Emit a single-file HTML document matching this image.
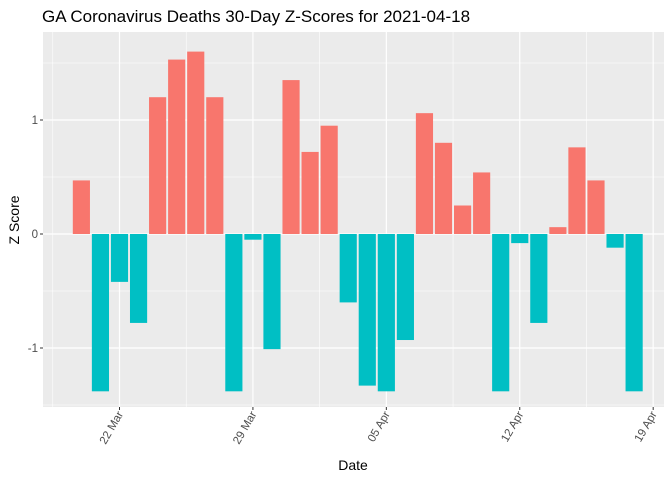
<!DOCTYPE html>
<html><head><meta charset="utf-8"><style>
body{margin:0;background:#fff;font-family:"Liberation Sans",Arial,sans-serif}
</style></head><body>
<svg width="672" height="480" xmlns="http://www.w3.org/2000/svg">
<text x="42" y="22" font-size="17" fill="#000">GA Coronavirus Deaths 30-Day Z-Scores for 2021-04-18</text>
<rect x="43" y="32" width="621" height="375" fill="#ebebeb"/>
<g id="grid"></g><g id="bars"></g><g id="axes"></g>
<text transform="translate(19,220) rotate(-90)" text-anchor="middle" font-size="14">Z Score</text>
<text x="353" y="470" text-anchor="middle" font-size="14">Date</text>
</svg>
<script>
const days=[-2,-1,0,1,2,3,4,5,6,7,8,9,10,11,12,13,14,15,16,17,18,19,20,21,22,23,24,25,26,27];
const zscores=[0.47,-1.38,-0.42,-0.78,1.2,1.53,1.6,1.2,-1.38,-0.05,-1.01,1.35,0.72,0.95,-0.6,-1.33,-1.38,-0.93,1.06,0.8,0.25,0.54,-1.38,-0.08,-0.78,0.06,0.76,0.47,-0.12,-1.38];
const xTickDays=[0,7,14,21,28];
const xTickLabels=["22 Mar","29 Mar","05 Apr","12 Apr","19 Apr"];
const yTicks=[-1,0,1];
const NS="http://www.w3.org/2000/svg";
const L=43,R=664,T=32,B=407;
const x=d=>119.5+d*19.06;
const y=v=>234-v*114;
function mk(tag,attrs,parent){const e=document.createElementNS(NS,tag);for(const k in attrs)e.setAttribute(k,attrs[k]);document.getElementById(parent).appendChild(e);return e;}
// minor grid
for(let i=0;i<xTickDays.length;i++){
  const d=xTickDays[i]-3.5;
  if(x(d)>L&&x(d)<R){const g=mk('line',{x1:x(d),x2:x(d),y1:T,y2:B,stroke:'#fff','stroke-width':0.6},'grid');
  
  }
}
for(const v of [-1.5,-0.5,0.5,1.5]){const g=mk('line',{x1:L,x2:R,y1:y(v),y2:y(v),stroke:'#fff','stroke-width':0.6},'grid');
  
  }
for(let i=0;i<xTickDays.length;i++){const g=mk('line',{x1:x(xTickDays[i]),x2:x(xTickDays[i]),y1:T,y2:B,stroke:'#fff','stroke-width':1.2},'grid');
  
  }
for(const v of yTicks){const g=mk('line',{x1:L,x2:R,y1:y(v),y2:y(v),stroke:'#fff','stroke-width':1.2},'grid');
  
  }
// bars
for(let i=0;i<days.length;i++){
  const v=zscores[i],w=19.06*0.9;
  const b=mk('rect',{x:x(days[i])-w/2,y:Math.min(y(v),y(0)),width:w,height:Math.abs(y(v)-y(0)),fill:v>=0?'#f8766d':'#00bfc4'},'bars');
  
  
}
// axes ticks/labels
for(const v of yTicks){
  const t=mk('line',{x1:L-3,x2:L,y1:y(v),y2:y(v),stroke:'#333','stroke-width':1},'axes');
  
  
  const l=mk('text',{x:L-5,y:y(v)+4,'text-anchor':'end','font-size':11.5,fill:'#4d4d4d'},'axes');
  l.textContent=v;
  
  
}
for(let i=0;i<xTickDays.length;i++){
  const px=x(xTickDays[i]);
  const t=mk('line',{x1:px,x2:px,y1:B,y2:B+3,stroke:'#333','stroke-width':1},'axes');
  
  
  const l=mk('text',{transform:`translate(${px+4},${B+7}) rotate(-60)`,'text-anchor':'end','font-size':11.5,fill:'#4d4d4d'},'axes');
  l.textContent=xTickLabels[i];
  
  
}
</script>
</body></html>
